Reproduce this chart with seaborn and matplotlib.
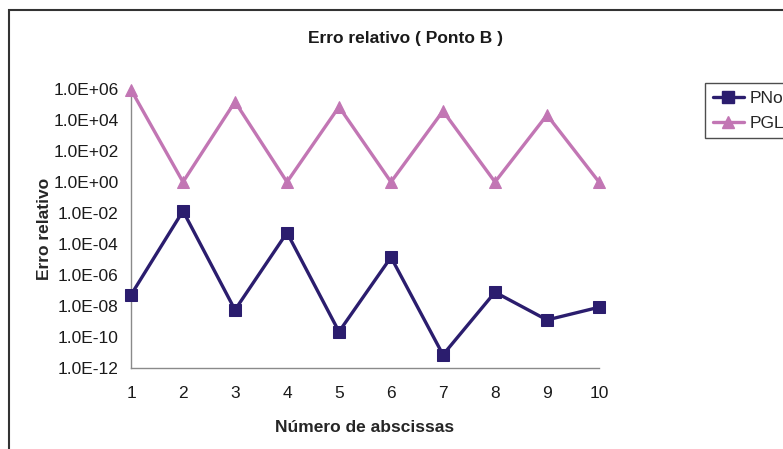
import numpy as np
import pandas as pd
import seaborn as sns
import matplotlib
matplotlib.use("Agg")
import matplotlib.pyplot as plt
from matplotlib.patches import Rectangle
from matplotlib.lines import Line2D
from matplotlib.ticker import FixedLocator, FuncFormatter, NullLocator

# Número de abscissas
abscissas = [1, 2, 3, 4, 5, 6, 7, 8, 9, 10]
# Erro relativo no ponto B para cada método
pnorm = [5.2e-8, 1.35e-2, 5.6e-9, 5.4e-4, 2.2e-10, 1.4e-5, 7.1e-12, 7.8e-8, 1.26e-9, 8.3e-9]
pgl = [9.0e5, 1.0, 1.5e5, 1.0, 7.1e4, 1.0, 3.8e4, 1.0, 2.1e4, 1.0]
series_names = ["PNorm", "PGL"]
ytick_values = [1e-12, 1e-10, 1e-8, 1e-6, 1e-4, 1e-2, 1e0, 1e2, 1e4, 1e6]

df = pd.DataFrame({
    "x": abscissas * 2,
    "erro": pnorm + pgl,
    "serie": [series_names[0]] * len(pnorm) + [series_names[1]] * len(pgl),
})

sns.set_style("white")
plt.rcParams["font.family"] = ["Liberation Sans", "DejaVu Sans"]

fig = plt.figure(figsize=(7.83, 4.49), dpi=100)
ax = fig.add_axes([131 / 783, 1 - 368 / 449, (599 - 131) / 783, (368 - 89) / 449])

navy = "#2b1d6e"
orchid = "#c276b4"
styles = {
    "PNorm": dict(color=navy, marker="s", markersize=8.5),
    "PGL": dict(color=orchid, marker="^", markersize=8.5),
}
for name in series_names:
    sub = df[df["serie"] == name]
    st = styles[name]
    sns.lineplot(data=sub, x="x", y="erro", ax=ax, color=st["color"],
                 marker=st["marker"], markersize=st["markersize"],
                 markeredgecolor=st["color"], linewidth=2.4,
                 clip_on=False, legend=False, zorder=3)

ax.set_yscale("log")
ax.set_xlim(1, 10)
ax.set_ylim(1e-12, 1e6)
ax.yaxis.set_major_locator(FixedLocator(ytick_values))
ax.yaxis.set_minor_locator(NullLocator())
ax.yaxis.set_major_formatter(FuncFormatter(lambda v, p: "{:.1E}".format(v)))
ax.set_xticks(abscissas)
ax.set_xticklabels([str(a) for a in abscissas])

for side in ["top", "right"]:
    ax.spines[side].set_visible(False)
for side in ["left", "bottom"]:
    ax.spines[side].set_color("#8a8a8a")
    ax.spines[side].set_linewidth(1.0)

ax.tick_params(axis="both", which="major", direction="out", length=5, width=1.0,
               color="#8a8a8a", labelsize=12.5, labelcolor="#1a1a1a", pad=4)
ax.tick_params(axis="x", pad=8)

ax.set_xlabel("Número de abscissas", fontsize=12.5, fontweight="bold", labelpad=14)
ax.set_ylabel("Erro relativo", fontsize=12.5, fontweight="bold", labelpad=1)

fig.text(405 / 783, 1 - 38 / 449, "Erro relativo ( Ponto B )", ha="center", va="center",
         fontsize=12.5, fontweight="bold", color="#1a1a1a")

# Moldura do gráfico
fig.patches.append(Rectangle((9 / 783, -0.1), 1.2, 1.1 - 10 / 449,
                             transform=fig.transFigure, fill=False,
                             edgecolor="#333333", linewidth=1.5))

handles = [Line2D([], [], color=navy, marker="s", markersize=8.5, linewidth=2.4),
           Line2D([], [], color=orchid, marker="^", markersize=8.5, linewidth=2.4)]
leg = fig.legend(handles, series_names, loc="upper left",
                 bbox_to_anchor=(705 / 783, 1 - 83 / 449), bbox_transform=fig.transFigure,
                 frameon=True, fancybox=False, fontsize=12.5, handlelength=1.8,
                 handletextpad=0.3, borderpad=0.45, borderaxespad=0,
                 labelspacing=0.55)
leg.get_frame().set_edgecolor("#222222")
leg.get_frame().set_linewidth(1.0)

fig.savefig("out.png", dpi=100)
